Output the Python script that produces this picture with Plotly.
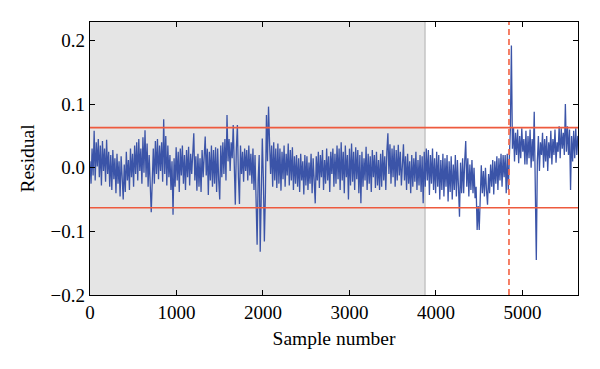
import plotly.graph_objects as go

# ---- data ----
sample_step = 12  # samples between successive residual values
residual = [
    0.010, -0.025, 0.030, -0.012, 0.058, -0.020, 0.040, 0.002, 0.045, -0.015, 0.035, -0.028, 0.042, -0.005, 0.030, -0.022, 0.044, -0.010, 0.025, -0.030,
    0.020, -0.035, 0.028, -0.018, 0.015, -0.040, 0.022, -0.025, 0.010, -0.045, 0.018, -0.030, -0.050, 0.005, -0.038, 0.025, -0.020, 0.012, -0.035, 0.030,
    -0.015, 0.022, -0.030, 0.035, -0.010, 0.040, -0.020, 0.045, -0.005, 0.030, -0.025, 0.048, -0.008, 0.059, -0.015, 0.038, -0.030, 0.020, -0.045, -0.070,
    -0.020, 0.030, -0.025, 0.042, -0.010, 0.045, -0.018, 0.035, -0.005, 0.040, -0.022, 0.076, -0.010, 0.050, -0.028, 0.035, -0.015, 0.020, -0.035, 0.010,
    -0.074, 0.015, -0.030, 0.032, -0.020, 0.025, -0.038, 0.030, -0.012, 0.035, -0.025, 0.020, -0.035, 0.028, -0.015, 0.033, -0.028, 0.022, -0.010, 0.030,
    0.054, -0.020, 0.018, -0.036, 0.022, -0.030, 0.015, -0.038, 0.028, -0.015, 0.020, 0.049, -0.012, 0.030, -0.043, 0.025, -0.020, 0.035, -0.030, 0.028,
    -0.025, 0.032, -0.038, 0.030, -0.020, -0.050, 0.035, -0.015, 0.040, -0.010, 0.045, -0.020, 0.083, 0.010, 0.045, -0.005, 0.040, 0.015, 0.067, -0.020,
    -0.058, 0.030, 0.067, -0.015, -0.057, 0.035, -0.010, 0.025, -0.022, 0.030, -0.005, 0.028, -0.020, 0.035, -0.012, 0.022, -0.025, 0.030, -0.035, 0.020,
    -0.040, -0.121, -0.020, 0.020, -0.132, -0.030, 0.046, -0.015, -0.116, -0.040, 0.083, 0.010, 0.096, 0.040, -0.010, 0.035, -0.030, 0.040, -0.020, 0.030,
    -0.032, 0.038, -0.025, 0.030, -0.036, 0.025, -0.018, 0.035, -0.030, 0.022, -0.012, 0.038, -0.028, 0.028, -0.020, 0.032, -0.035, 0.018, -0.025, 0.020,
    -0.030, 0.015, -0.038, 0.022, -0.020, 0.010, -0.042, 0.020, -0.028, 0.018, -0.035, 0.008, -0.025, 0.022, -0.040, 0.015, -0.030, -0.056, 0.018, -0.020,
    0.025, -0.032, 0.020, -0.015, 0.028, -0.035, 0.012, -0.025, 0.030, -0.020, 0.018, -0.038, 0.025, -0.010, 0.030, -0.030, 0.022, -0.025, 0.035, -0.018,
    0.030, -0.035, 0.040, -0.020, 0.025, -0.040, 0.035, -0.015, 0.020, -0.050, 0.030, -0.028, 0.038, -0.022, 0.025, -0.035, 0.032, -0.018, 0.028, -0.040,
    0.020, -0.056, 0.025, -0.030, 0.015, -0.020, 0.033, -0.035, 0.022, -0.025, 0.018, -0.038, 0.028, -0.015, 0.020, -0.032, 0.025, -0.028, 0.012, -0.035,
    0.022, -0.030, 0.028, -0.020, 0.018, -0.035, 0.025, 0.054, -0.010, 0.037, -0.025, 0.030, -0.015, 0.035, -0.030, 0.028, -0.020, 0.036, -0.012, 0.025,
    -0.028, 0.020, 0.037, -0.020, 0.018, -0.035, 0.022, -0.025, 0.010, -0.040, 0.020, -0.030, 0.015, -0.022, 0.025, -0.035, 0.012, -0.028, 0.020, -0.038,
    0.018, -0.056, 0.025, -0.030, 0.030, -0.020, 0.028, -0.043, 0.020, -0.025, 0.030, -0.035, 0.015, -0.040, 0.025, -0.030, 0.020, -0.050, 0.012, -0.035,
    0.022, -0.045, 0.015, -0.030, 0.020, -0.053, 0.010, -0.038, 0.018, -0.050, 0.005, -0.035, 0.020, -0.045, 0.012, -0.030, -0.077, 0.008, -0.040, 0.015,
    -0.040, 0.010, 0.042, -0.030, 0.015, -0.045, 0.005, -0.035, 0.012, -0.040, 0.000, -0.048, -0.030, -0.098, -0.060, -0.098, -0.020, 0.004, -0.040, -0.005,
    -0.045, 0.000, -0.035, -0.058, -0.010, -0.040, 0.005, -0.030, 0.012, -0.042, 0.010, -0.025, 0.018, -0.035, 0.015, -0.020, 0.022, -0.030, 0.020, -0.015,
    0.020, -0.040, 0.022, -0.035, 0.015, 0.060, 0.192, 0.030, 0.064, 0.010, 0.055, 0.020, 0.060, 0.007, 0.050, 0.015, 0.062, 0.025, 0.045, 0.005,
    0.058, 0.005, 0.050, 0.015, 0.060, 0.000, 0.045, 0.010, 0.088, -0.020, -0.145, 0.010, 0.050, -0.005, 0.040, 0.020, 0.055, 0.000, 0.045, 0.010,
    0.050, -0.005, 0.040, 0.015, 0.058, 0.005, 0.045, 0.020, 0.060, 0.008, 0.040, 0.025, 0.065, 0.015, 0.062, 0.030, 0.055, 0.020, 0.100, 0.025,
    0.065, 0.020, 0.060, -0.035, 0.050, 0.010, 0.058, 0.015, 0.062, 0.020, 0.050,
]
samples = [i * sample_step for i in range(len(residual))]

control_limits = [0.063, -0.063]     # upper / lower residual limits
training_end = 3873                  # end of the shaded (training) region
fault_sample = 4844                  # detected change point
x_max = 5642
y_range = [-0.2, 0.229]
x_ticks = [0, 1000, 2000, 3000, 4000, 5000]
y_ticks = [-0.2, -0.1, 0.0, 0.1, 0.2]

BLUE = "#3b54a8"
RED = "#ee5a3e"
FONT = "Liberation Serif"

fig = go.Figure()

fig.add_trace(go.Scatter(
    x=samples, y=residual, mode="lines",
    line=dict(color=BLUE, width=1.3),
    showlegend=False, hoverinfo="skip",
))

# shaded training region
fig.add_shape(type="rect", xref="x", yref="paper", x0=0, x1=training_end, y0=0, y1=1,
              fillcolor="#e5e5e5", line=dict(width=0), layer="below")
fig.add_shape(type="line", xref="x", yref="paper", x0=training_end, x1=training_end, y0=0, y1=1,
              line=dict(color="#c4c4c4", width=1.5), layer="below")

# control limits
for lim in control_limits:
    fig.add_shape(type="line", xref="paper", yref="y", x0=0, x1=1, y0=lim, y1=lim,
                  line=dict(color=RED, width=1.6), layer="above")

# change point
fig.add_shape(type="line", xref="x", yref="paper", x0=fault_sample, x1=fault_sample, y0=0, y1=1,
              line=dict(color="#f46a4c", width=1.7, dash="6px,4px"), layer="above")

axis_common = dict(
    showline=True, linecolor="black", linewidth=1.4, mirror="ticks",
    ticks="inside", ticklen=5, tickwidth=1.2, tickcolor="black",
    showgrid=False, zeroline=False,
    tickfont=dict(family=FONT, size=19, color="black"),
)

fig.update_xaxes(
    range=[0, x_max], tickvals=x_ticks, ticktext=[str(t) for t in x_ticks],
    title=dict(text="Sample number", font=dict(family=FONT, size=19.5, color="black"), standoff=9),
    **axis_common,
)
fig.update_yaxes(
    range=y_range, tickvals=y_ticks, tickformat=".1f",
    title=dict(text="Residual", font=dict(family=FONT, size=19.5, color="black"), standoff=10),
    **axis_common,
)

# page body adds an 8px offset; margins are chosen so the plot area lands at
# x 90..578, y 22..295 in the 600x369 window
fig.update_layout(
    width=600, height=369,
    margin=dict(l=82, r=30, t=14, b=82, autoexpand=False),
    paper_bgcolor="white", plot_bgcolor="white",
    font=dict(family=FONT, color="black"),
)

fig.write_html("out.html")
